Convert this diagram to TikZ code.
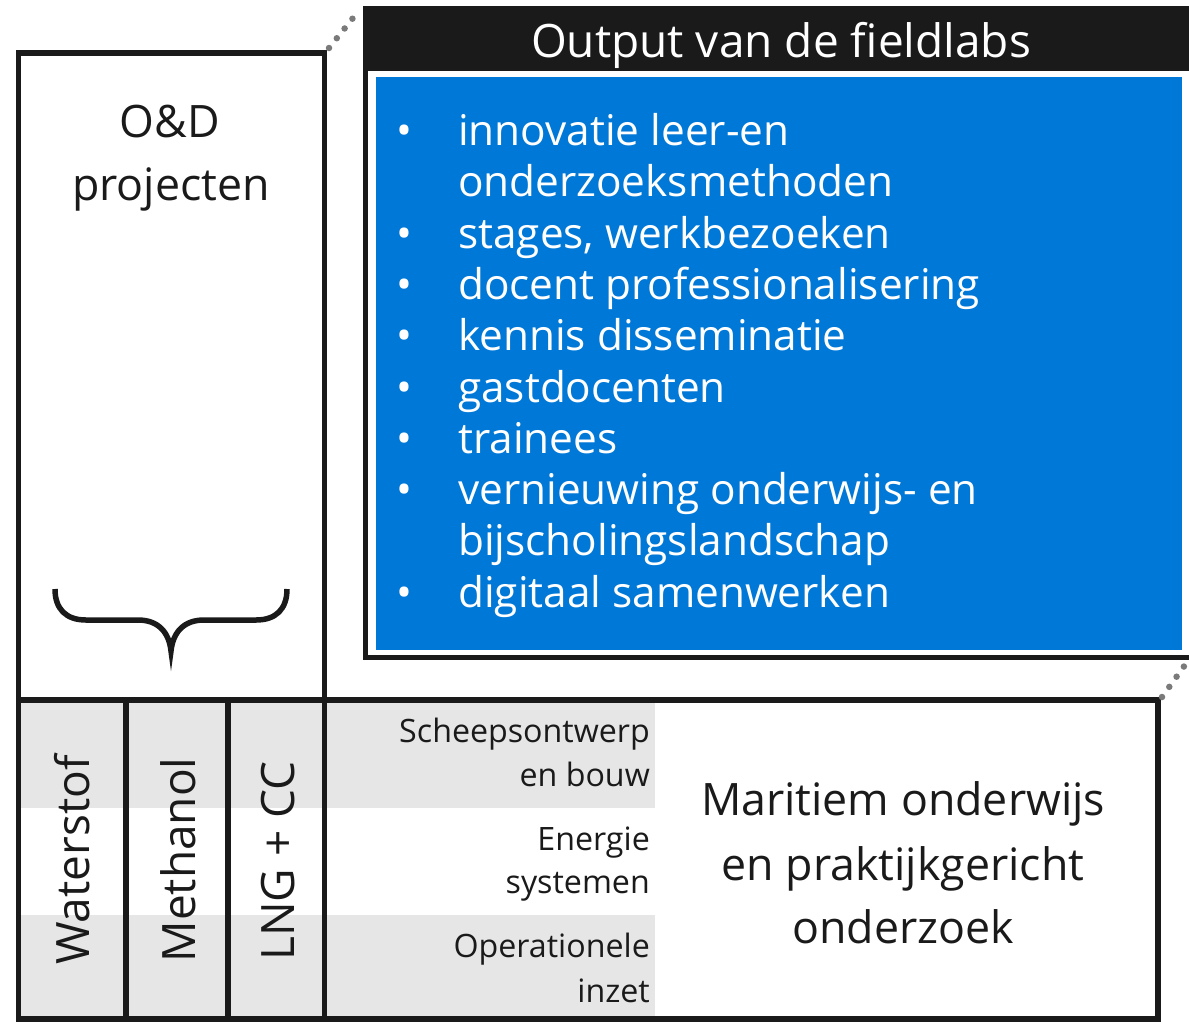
\documentclass[tikz,border=0pt]{standalone}
\usepackage{fontspec}
\setmainfont{Open Sans}
\definecolor{boxblack}{HTML}{1A1A1A}
\definecolor{fieldblue}{HTML}{0078D7}
\definecolor{bandgray}{HTML}{E6E6E6}
\definecolor{dotgray}{HTML}{7A7A7A}
\begin{document}
\begin{tikzpicture}[x=1pt,y=-1pt,
  frame/.style={draw=boxblack,line width=5.5pt},
  divider/.style={draw=boxblack,line width=5.5pt},
  dotlink/.style={draw=dotgray,line width=6.5pt,line cap=round,dash pattern=on 0pt off 12.5pt},
  bullettext/.style={anchor=base west,inner sep=0pt,text=white,font=\fontsize{42.3}{51}\selectfont},
  bulletdot/.style={anchor=base,inner sep=0pt,text=white,font=\fontsize{42.3}{51}\selectfont},
  biglabel/.style={anchor=base,inner sep=0pt,text=boxblack,font=\fontsize{44.7}{63}\selectfont},
  sidelabel/.style={anchor=base east,inner sep=0pt,text=boxblack,font=\fontsize{32.2}{44}\selectfont},
  fuellabel/.style={rotate=90,inner sep=0pt,text=boxblack,font=\fontsize{46}{50}\selectfont},
  bracepath/.style={draw=boxblack,line width=5.5pt}]
\useasboundingbox (0,0) rectangle (1189,1021);
\begin{scope}
\clip (0,0) rectangle (1189,1021);
% output box
\fill[boxblack] (363,6) rectangle (1195,660);
\fill[white] (368,71) rectangle (1195,655);
\fill[fieldblue] (376,77) rectangle (1182,650);
\node[anchor=base,inner sep=0pt,text=white,font=\fontsize{46}{50}\selectfont] (title) at (781,57) {Output van de fieldlabs};
% bullet list
\node[bulletdot] (b0) at (404,145.5) {•};
\node[bullettext] (t0) at (458,145.5) {innovatie leer-en};
\node[bullettext] (t1) at (458,196.8) {onderzoeksmethoden};
\node[bulletdot] (b2) at (404,248.1) {•};
\node[bullettext] (t2) at (458,248.1) {stages, werkbezoeken};
\node[bulletdot] (b3) at (404,299.4) {•};
\node[bullettext] (t3) at (458,299.4) {docent professionalisering};
\node[bulletdot] (b4) at (404,350.7) {•};
\node[bullettext] (t4) at (458,350.7) {kennis disseminatie};
\node[bulletdot] (b5) at (404,402.0) {•};
\node[bullettext] (t5) at (458,402.0) {gastdocenten};
\node[bulletdot] (b6) at (404,453.3) {•};
\node[bullettext] (t6) at (458,453.3) {trainees};
\node[bulletdot] (b7) at (404,504.6) {•};
\node[bullettext] (t7) at (458,504.6) {vernieuwing onderwijs- en};
\node[bullettext] (t8) at (458,555.9) {bijscholingslandschap};
\node[bulletdot] (b9) at (404,607.2) {•};
\node[bullettext] (t9) at (458,607.2) {digitaal samenwerken};
% gray bands
\fill[bandgray] (18,700) rectangle (655,808);
\fill[bandgray] (18,915) rectangle (655,1019);
% frames
\draw[frame] (18.5,53) rectangle (324.5,700);
\draw[frame] (18.5,700) rectangle (1158,1019);
\draw[divider] (126,700) -- (126,1019);
\draw[divider] (228,700) -- (228,1019);
\draw[divider] (324.5,700) -- (324.5,1019);
% dotted links
\coordinate (odcorner) at (329,48);
\coordinate (outTL) at (357,13);
\coordinate (botcorner) at (1162,697);
\coordinate (outBR) at (1190,658);
\draw[dotlink] (odcorner) -- (outTL);
\draw[dotlink] (botcorner) -- (outBR);
\end{scope}
% O&D
\node[biglabel] (od1) at (170,137) {O\&D};
\node[biglabel] (od2) at (171,200) {projecten};
% brace
\draw[bracepath] (55,589) .. controls (55,609) and (66,620) .. (86,620) -- (138,620) .. controls (158,620) and (169,632) .. (171,651)
  .. controls (173,632) and (184,620) .. (204,620) -- (256,620) .. controls (276,620) and (287,609) .. (287,589);
% fuels
\node[fuellabel] (fuel1) at (72,860) {Waterstof};
\node[fuellabel] (fuel2) at (178,860) {Methanol};
\node[fuellabel] (fuel3) at (278,861) {LNG + CC};
% side labels
\node[sidelabel] (s1a) at (650,742) {Scheepsontwerp};
\node[sidelabel] (s1b) at (650,786) {en bouw};
\node[sidelabel] (s2a) at (650,850) {Energie};
\node[sidelabel] (s2b) at (650,893) {systemen};
\node[sidelabel] (s3a) at (650,957) {Operationele};
\node[sidelabel] (s3b) at (650,1002) {inzet};
% Maritiem
\node[biglabel] (m1) at (903,815) {Maritiem onderwijs};
\node[biglabel] (m2) at (903,880) {en praktijkgericht};
\node[biglabel] (m3) at (903,943) {onderzoek};
\end{tikzpicture}
\end{document}
